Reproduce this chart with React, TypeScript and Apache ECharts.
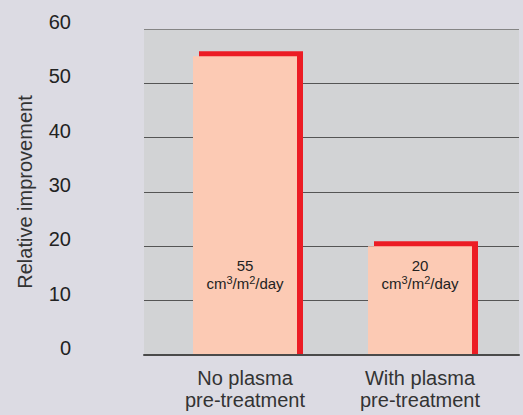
import React, { useEffect, useRef } from "react";
import * as echarts from "echarts";

const categories = ["No plasma\npre-treatment", "With plasma\npre-treatment"];
const values = [55, 20];
const unitParts = ["cm", "3", "/m", "2", "/day"];
const yAxisName = "Relative improvement";
const yMin = 0;
const yMax = 60;
const yInterval = 10;

const FONT = "'Liberation Sans', Arial, Helvetica, sans-serif";

export default function App() {
  const ref = useRef<HTMLDivElement>(null);

  useEffect(() => {
    if (!ref.current) return;
    const chart = echarts.init(ref.current, null, { renderer: "svg" });

    const unitRich = `{u|${unitParts[0]}}{s|${unitParts[1]}}{u|${unitParts[2]}}{s|${unitParts[3]}}{u|${unitParts[4]}}`;

    const option: any = {
      animation: false,
      backgroundColor: "#dcdbe3",
      textStyle: { fontFamily: FONT },
      grid: [
        { left: 144, right: 4, top: 29, bottom: 60, show: true, backgroundColor: "#d2d3d5", borderWidth: 0 },
        { left: 157.5, right: 15.5, top: 29, bottom: 60 },
      ],
      xAxis: [
        {
          gridIndex: 0,
          type: "category",
          data: categories,
          z: 10,
          axisLine: { show: true, lineStyle: { color: "#4a4a4a", width: 2 } },
          axisTick: { show: false },
          axisLabel: { show: false },
          splitLine: { show: false },
        },
        {
          gridIndex: 1,
          type: "category",
          data: categories,
          axisLine: { show: false },
          axisTick: { show: false },
          axisLabel: { fontSize: 20, lineHeight: 22, color: "#333", margin: 12, fontFamily: FONT },
          splitLine: { show: false },
        },
      ],
      yAxis: [
        {
          gridIndex: 0,
          type: "value",
          min: yMin,
          max: yMax,
          interval: yInterval,
          name: yAxisName,
          nameLocation: "middle",
          nameGap: 109,
          nameTextStyle: { fontSize: 20, color: "#333", fontFamily: FONT },
          axisLine: { show: false },
          axisTick: { show: false },
          axisLabel: {
            fontSize: 20,
            color: "#222",
            margin: 73,
            verticalAlign: "bottom",
            lineHeight: 14,
            fontFamily: FONT,
          },
          splitLine: {
            show: true,
            lineStyle: { color: ["#555", "#555", "#555", "#555", "#555", "#555", "#858585"], width: 1 },
          },
        },
        { gridIndex: 1, type: "value", min: yMin, max: yMax, interval: yInterval, show: false },
      ],
      series: [
        {
          type: "custom",
          xAxisIndex: 1,
          yAxisIndex: 1,
          z: 1,
          data: values.map((v, i) => [i, v]),
          renderItem: (params: any, api: any) => {
            const idx = api.value(0);
            const v = api.value(1);
            const top = api.coord([idx, v]);
            const base = api.coord([idx, 0]);
            const w = 104;
            const dx = 6;
            const dy = 5;
            return {
              type: "rect",
              shape: { x: top[0] - w / 2 + dx, y: top[1] - dy, width: w, height: base[1] - top[1] + dy },
              style: { fill: "#ec1c24" },
            };
          },
        },
        {
          type: "bar",
          xAxisIndex: 1,
          yAxisIndex: 1,
          z: 2,
          barWidth: 104,
          data: values,
          itemStyle: { color: "#fccab4" },
          label: {
            show: true,
            position: "insideBottom",
            distance: 63,
            color: "#222",
            fontFamily: FONT,
            formatter: (p: any) => `{v|${p.value}}\n${unitRich}`,
            rich: {
              v: { fontSize: 15, lineHeight: 18, color: "#222", fontFamily: FONT },
              u: { fontSize: 15, lineHeight: 18, color: "#222", fontFamily: FONT },
              s: { fontSize: 11, lineHeight: 2, verticalAlign: "top", color: "#222", fontFamily: FONT },
            },
          },
        },
      ],
    };

    chart.setOption(option);
    return () => chart.dispose();
  }, []);

  return <div ref={ref} style={{ position: "fixed", left: 0, top: 0, width: 523, height: 415 }} />;
}
